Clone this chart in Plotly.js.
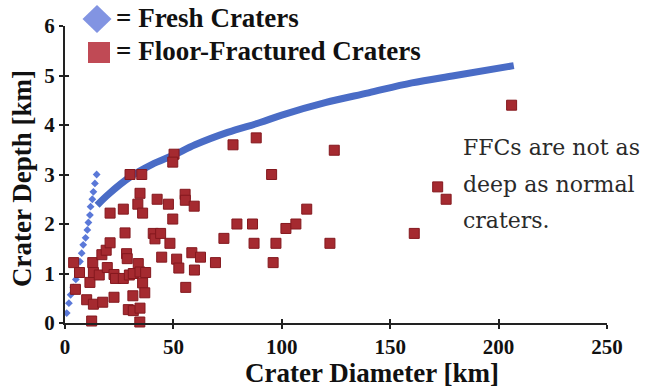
<!DOCTYPE html>
<html>
<head>
<meta charset="utf-8">
<script src="https://cdn.plot.ly/plotly-3.0.1.min.js"></script>
<style>html,body{margin:0;padding:0;background:#fff;}#chart{width:647px;height:388px;}</style>
</head>
<body>
<div id="chart"></div>
<script>
// Fresh craters (simple, small) - diamonds
const freshX = [0.8,1.8,2.6,3.8,5.0,5.8,6.9,7.7,8.4,9.5,10.3,10.8,11.5,11.8,12.6,13.1,13.8,14.6];
const freshY = [0.2,0.4,0.57,0.72,0.88,1.05,1.24,1.41,1.58,1.72,1.88,2.03,2.18,2.35,2.5,2.65,2.82,3.0];
// Fresh craters (complex) - trend curve
const curveX = [14.8,20,30,40,50,60,75,90,100,120,140,160,180,207];
const curveY = [2.38,2.6,2.95,3.2,3.39,3.6,3.85,4.05,4.2,4.45,4.65,4.85,5.0,5.2];
// Floor-fractured craters
const ffcX = [4.0,6.7,4.8,10.0,11.5,12.3,12.8,13.1,13.1,15.8,17.4,17.0,19.0,19.5,20.8,20.8,22.6,23.3,22.6,26.9,
  27.7,28.4,28.7,26.9,29.7,31.5,29.2,31.5,34.6,31.3,34.5,33.8,34.6,37.2,35.8,36.8,30.0,35.4,34.6,33.6,
  35.8,40.7,41.5,44.1,42.5,47.7,49.7,48.4,44.6,50.3,49.7,51.5,52.5,55.7,55.4,55.5,59.6,58.5,62.5,59.7,
  69.4,73.3,77.5,88.2,95.3,79.3,86.5,87.2,96.0,97.3,101.9,106.5,111.5,122.2,124.2,161.1,171.9,175.8,206.0];
const ffcY = [1.22,1.02,0.68,0.47,0.82,0.04,1.22,1.02,0.38,0.97,0.42,1.38,1.47,1.12,1.62,2.22,0.98,0.9,0.52,2.3,
  1.82,1.4,1.3,0.9,0.97,1.0,0.27,0.25,0.3,0.55,0.02,1.2,1.03,1.02,0.81,0.61,3.0,3.0,2.62,2.4,
  2.22,1.81,1.7,1.81,2.5,2.4,2.1,1.61,1.33,3.41,3.25,1.29,1.11,0.72,2.6,2.48,2.36,1.42,1.33,1.07,
  1.22,1.71,3.6,3.74,3.0,2.0,2.0,1.61,1.22,1.61,1.91,2.0,2.3,1.61,3.49,1.81,2.75,2.5,4.4];
const xTicks = [0,50,100,150,200,250];
const yTicks = [0,1,2,3,4,5,6];
const legendLabels = ['= Fresh Craters','= Floor-Fractured Craters'];
const noteLines = ['FFCs are not as','deep as normal','craters.'];
const xTitle = 'Crater Diameter [km]';
const yTitle = 'Crater Depth [km]';

const SERIF = 'Liberation Serif, Times New Roman, serif';
const bold = size => ({family:SERIF, size:size, weight:700, color:'#111'});
const traces = [
  {x:curveX, y:curveY, mode:'lines', line:{color:'#4a6cc6', width:7, shape:'spline'}, cliponaxis:false, hoverinfo:'skip'},
  {x:freshX, y:freshY, mode:'markers', marker:{symbol:'diamond', size:6, color:'#5a78d8'}, cliponaxis:false},
  {x:ffcX, y:ffcY, mode:'markers', marker:{symbol:'square', size:10, color:'#a52a30', line:{color:'#84181e', width:1}}, cliponaxis:false}
];
const W=542, H=297, L=65, T=26;
const px = v => (v - L)/W, py = v => (T+H - v)/H;
const annotations = [
  {text:legendLabels[0], xref:'paper', yref:'paper', x:px(114), y:py(18), xanchor:'left', yanchor:'middle', showarrow:false, font:bold(27)},
  {text:legendLabels[1], xref:'paper', yref:'paper', x:px(114), y:py(51), xanchor:'left', yanchor:'middle', showarrow:false, font:bold(27)},
  {text:xTitle, xref:'paper', yref:'paper', x:px(372), y:py(373), xanchor:'center', yanchor:'middle', showarrow:false, font:bold(27)},
  {text:yTitle, xref:'paper', yref:'paper', x:px(22), y:py(179), xanchor:'center', yanchor:'middle', textangle:-90, showarrow:false, font:bold(27)}
];
const noteY = [147,184,220];
noteLines.forEach((t,i)=>annotations.push({text:t, xref:'paper', yref:'paper', x:px(461), y:py(noteY[i]), xanchor:'left', yanchor:'middle', showarrow:false, font:{family:'DejaVu Serif, serif', size:22, color:'#2a2a2a'}}));
const cx=px(97), cy=py(19), hw=14.5/W, hh=14/H;
const shapes = [
  {type:'path', xref:'paper', yref:'paper', path:`M ${cx-hw},${cy} L ${cx},${cy+hh} L ${cx+hw},${cy} L ${cx},${cy-hh} Z`, fillcolor:'#8294e2', line:{width:0}},
  {type:'rect', xref:'paper', yref:'paper', x0:px(88), x1:px(110), y0:py(63), y1:py(42), fillcolor:'#c04a55', line:{width:0}}
];
const layout = {
  width:647, height:388, margin:{l:L, r:647-L-W, t:T, b:388-T-H},
  paper_bgcolor:'#fff', plot_bgcolor:'#fff', showlegend:false,
  font:{family:SERIF, size:21, color:'#111'},
  xaxis:{range:[0,250], tickmode:'array', tickvals:xTicks, ticktext:xTicks.map(String),
    showgrid:false, zeroline:false, showline:true, linecolor:'#222', linewidth:2, ticks:'outside', ticklen:4, tickwidth:2, tickcolor:'#222',
    tickfont:bold(21)},
  yaxis:{range:[0,6], tickmode:'array', tickvals:yTicks, ticktext:yTicks.map(String),
    showgrid:false, zeroline:false, showline:true, linecolor:'#222', linewidth:2, ticks:'outside', ticklen:4, tickwidth:2, tickcolor:'#222',
    tickfont:bold(21)},
  xaxis2:{overlaying:'x', range:[0,250], tickmode:'array', tickvals:xTicks, ticks:'inside', ticklen:4, tickwidth:2, tickcolor:'#222', showticklabels:false, showgrid:false, zeroline:false, anchor:'y'},
  yaxis2:{overlaying:'y', range:[0,6], tickmode:'array', tickvals:yTicks, ticks:'inside', ticklen:4, tickwidth:2, tickcolor:'#222', showticklabels:false, showgrid:false, zeroline:false, anchor:'x'},
  annotations, shapes
};
traces.push({x:[0], y:[0], xaxis:'x2', yaxis:'y2', mode:'markers', marker:{opacity:0}, hoverinfo:'skip'});
Plotly.newPlot('chart', traces, layout, {displayModeBar:false, staticPlot:true});
</script>
</body>
</html>
